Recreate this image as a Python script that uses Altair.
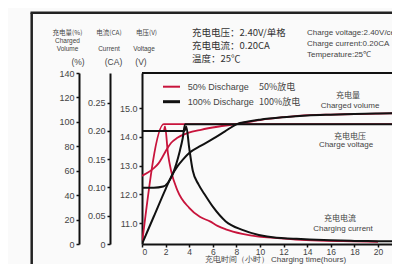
import altair as alt
import pandas as pd

# ---------------- data (hours -> value) ----------------
red_vol_t = [0, 0.5, 0.93, 1.4, 1.78, 2.1, 2.46, 3.0, 3.9, 5.0, 6.4, 8.0, 10.0, 12.0, 14.2, 16.0, 18.0, 20.0, 22.0]
red_vol = [55.8, 58.5, 61.5, 66.0, 72.0, 77.5, 82.7, 87.0, 90.9, 93.5, 96.0, 98.2, 101.5, 103.8, 105.5, 106.0, 106.4, 106.8, 107.2]

red_volt_t = [0, 1.85, 22.0]
red_volt = [10.27, 14.44, 14.44]

red_cur_t = [0, 1.85, 1.95, 2.2, 2.46, 3.0, 4.0, 4.9, 5.76, 6.4, 7.1, 8.5, 9.9, 11.5, 13.0, 15.0, 17.0, 20.0]
red_cur = [0.20, 0.20, 0.208, 0.16, 0.13, 0.095, 0.064, 0.048, 0.040, 0.032, 0.026, 0.018, 0.013, 0.0105, 0.008, 0.006, 0.005, 0.004]

blk_vol_t = [0, 1, 2, 2.5, 3, 3.5, 4, 5, 6, 7, 8, 9, 10, 12, 14, 16, 18, 20, 22]
blk_vol = [0, 22.5, 45, 55.5, 63.5, 69.5, 74.5, 80.5, 86, 92, 98, 100.3, 101.8, 103.8, 105.2, 105.9, 106.4, 106.9, 107.3]

blk_volt_t = [0, 1.0, 1.8, 2.2, 2.6, 2.9, 3.2, 3.45, 3.65, 22.0]
blk_volt = [12.23, 12.23, 12.27, 12.4, 12.7, 13.05, 13.5, 13.95, 14.44, 14.44]

blk_cur_t = [0, 3.6, 3.75, 4.0, 4.3, 4.8, 5.3, 6.0, 7.1, 8.5, 9.9, 11.4, 12.8, 14.2, 16, 18, 20, 22]
blk_cur = [0.20, 0.20, 0.208, 0.17, 0.13, 0.105, 0.088, 0.066, 0.040, 0.025, 0.016, 0.011, 0.0095, 0.008, 0.0065, 0.0055, 0.005, 0.0045]

x_ticks = [0, 2, 4, 6, 8, 10, 12, 14, 16, 18, 20]
vol_ticks = [0, 20, 40, 60, 80, 100, 120, 140]
cur_ticks = [0, 0.05, 0.10, 0.15, 0.20, 0.25]
volt_ticks = [11, 12, 13, 14, 15]

RED = "#c8143c"
BLK = "#111111"
GREY = "#444444"
LAT = "Liberation Sans"
CJK = "Noto Sans CJK SC"

W, H = 250, 171
xscale = alt.Scale(domain=[0, W / 11.8], nice=False, zero=False)
vol_scale = alt.Scale(domain=[0, 140], nice=False, zero=False)
cur_scale = alt.Scale(domain=[0, 0.3025], nice=False, zero=False)
volt_scale = alt.Scale(domain=[10.27, 16.22], nice=False, zero=False)


def yaxis(offset, values, fmt=None, expr=None):
    kw = dict(orient="left", offset=offset, values=values, title=None, grid=False,
              domainColor=BLK, domainWidth=2, tickColor=BLK, tickWidth=1.5, tickSize=3,
              labelFontSize=9, labelColor=GREY, labelFont=LAT, labelPadding=2)
    if fmt:
        kw["format"] = fmt
    if expr:
        kw["labelExpr"] = expr
    return alt.Axis(**kw)


xaxis = alt.Axis(values=x_ticks, title="充电时间（小时）  Charging time(hours)", grid=False,
                 domainColor=BLK, domainWidth=2, tickColor=BLK, tickWidth=1.5, tickSize=3,
                 labelFontSize=8.5, labelColor=GREY, labelFont=LAT, labelPadding=0,
                 titleFont=LAT, titleFontSize=8, titleColor=GREY, titleFontWeight="normal",
                 titleY=15.5, titleX=133, titleBaseline="middle")


def curve(ts, vs, scale, axis, color, width):
    df = pd.DataFrame({"t": ts, "v": vs})
    return alt.Chart(df).mark_line(color=color, strokeWidth=width, interpolate="monotone", clip=True).encode(
        x=alt.X("t:Q", scale=xscale, axis=xaxis),
        y=alt.Y("v:Q", scale=scale, axis=axis),
    )


layers = [
    curve(red_vol_t, red_vol, vol_scale, yaxis(63, vol_ticks), RED, 1.8),
    curve(red_cur_t, red_cur, cur_scale, yaxis(32, cur_ticks, expr="datum.value == 0 ? '0' : format(datum.value, '.2f')"), RED, 1.8),
    curve(red_volt_t, red_volt, volt_scale, yaxis(0, volt_ticks, fmt=".1f"), RED, 1.8),
    curve(blk_vol_t, blk_vol, vol_scale, None, BLK, 2.0),
    curve(blk_cur_t, blk_cur, cur_scale, None, BLK, 2.0),
    curve(blk_volt_t, blk_volt, volt_scale, None, BLK, 2.0),
]

one = pd.DataFrame({"a": [0]})


def rule(x, y, x2=None, y2=None, color=BLK, width=2):
    enc = dict(x=alt.value(x), y=alt.value(y))
    if x2 is not None:
        enc["x2"] = alt.value(x2)
    if y2 is not None:
        enc["y2"] = alt.value(y2)
    return alt.Chart(one).mark_rule(color=color, strokeWidth=width).encode(**enc)


def text(s, x, y, size=8, font=LAT, align="center", color=GREY):
    return alt.Chart(one).mark_text(text=s, fontSize=size, font=font, align=align,
                                    baseline="middle", color=color).encode(
        x=alt.value(x), y=alt.value(y))


# plot origin is at page (142, 73)
deco = [
    rule(-110.3, -60.3, y2=210, color="#222", width=2.5),       # outer frame left
    rule(-111.5, -60.3, x2=270, color="#222", width=2.5),       # outer frame top
    rule(0, 0, x2=W, width=2),                                   # plot box top
    # header
    text("充电电压：2.40V/单格", 50, -39.7, 9.5, CJK, "left", "#333"),
    text("充电电流：0.20CA", 50, -27, 9.5, CJK, "left", "#333"),
    text("温度：25℃", 50, -13.7, 9.5, CJK, "left", "#333"),
    text("Charge voltage:2.40V/cell", 165, -39.7, 8, LAT, "left"),
    text("Charge current:0.20CA", 165, -28.7, 8, LAT, "left"),
    text("Temperature:25℃", 165, -18, 8, LAT, "left"),
    # axis headers
    text("充电量(%)", -74.5, -40.3, 6.5, CJK),
    text("Charged", -74.5, -32, 6.5),
    text("Volume", -74.5, -24, 6.5),
    text("(%)", -64, -11.3, 8.5),
    text("电流(CA)", -33, -40.3, 6.5, CJK),
    text("Current", -33, -24, 6.5),
    text("(CA)", -28.5, -11.3, 8.5),
    text("电压(V)", 4.5, -40.3, 6.5, CJK),
    text("Voltage", 2, -24, 6.5),
    text("(V)", -1, -11.3, 8.5),
    # legend
    rule(21, 13.7, x2=38, color=RED, width=2),
    rule(21, 28.7, x2=38, color=BLK, width=3),
    text("50% Discharge", 45.7, 13.7, 9, LAT, "left"),
    text("100% Discharge", 45.7, 28.7, 9, LAT, "left"),
    text("50%放电", 117, 13.7, 9, CJK, "left"),
    text("100%放电", 117, 28.7, 9, CJK, "left"),
    # curve annotations
    text("充电量", 206, 23, 8, CJK),
    text("Charged volume", 208, 32.5, 8),
    text("充电电压", 208, 63.7, 8, CJK),
    text("Charge voltage", 204, 72, 8),
    text("充电电流", 198, 146.3, 8, CJK),
    text("Charging current", 201, 155.7, 8),
]

chart = alt.layer(*layers, *deco).resolve_scale(y="independent").properties(
    width=W, height=H,
    autosize=alt.AutoSizeParams(type="none"),
    padding={"left": 134, "top": 65, "right": 0, "bottom": 20},
    background="#fafafa",
).configure_view(stroke=None)

chart.save("out.html", embed_options={"renderer": "svg", "actions": False})
